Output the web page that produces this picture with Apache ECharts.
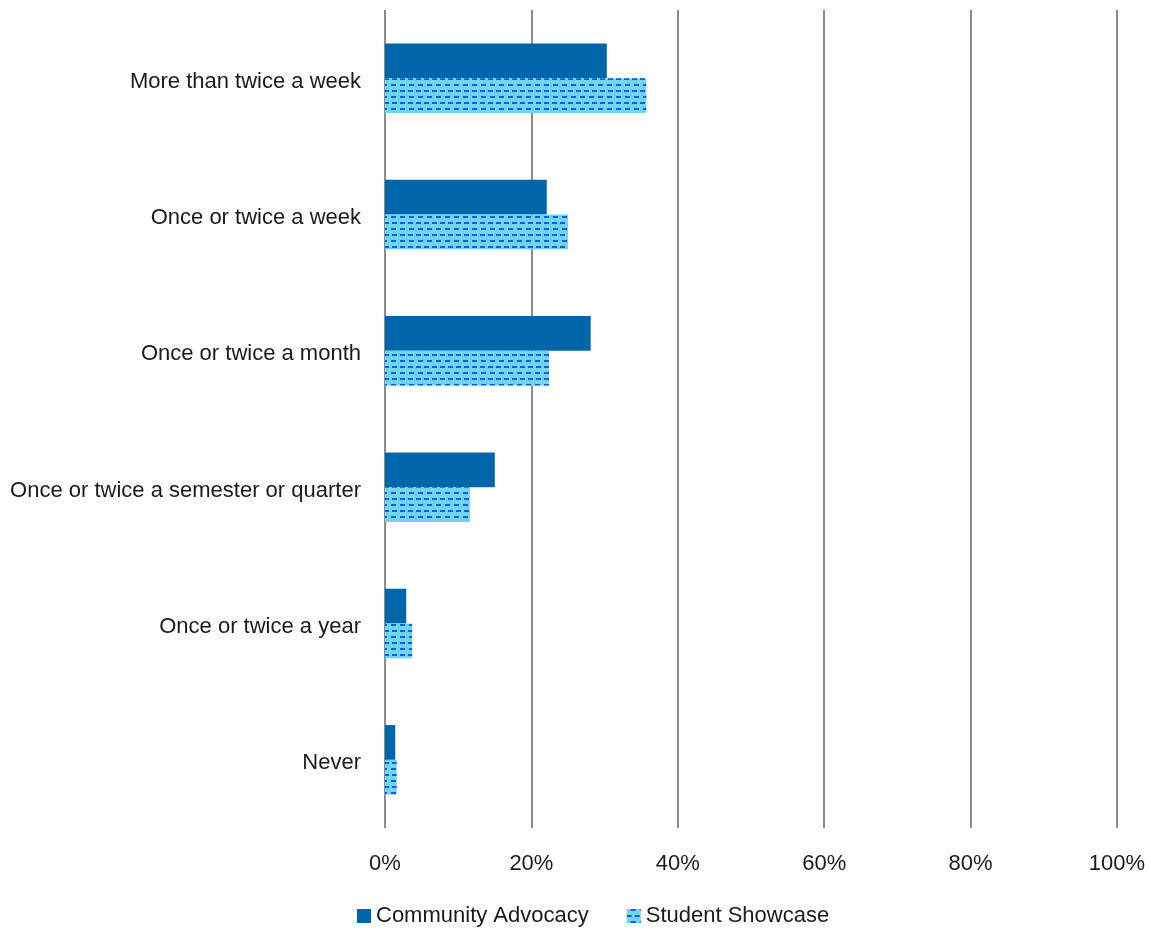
<!DOCTYPE html>
<html><head><meta charset="utf-8">
<script src="https://cdn.jsdelivr.net/npm/echarts@6/dist/echarts.min.js"></script>
<style>html,body{margin:0;padding:0;background:#fff}#c{width:1151px;height:932px}</style>
</head><body><div id="c"></div>
<script>
const categories = ["More than twice a week","Once or twice a week","Once or twice a month","Once or twice a semester or quarter","Once or twice a year","Never"];
const seriesNames = ["Community Advocacy","Student Showcase"];
const communityAdvocacy = [30.3, 22.1, 28.1, 15.0, 2.9, 1.4];
const studentShowcase = [35.7, 25.0, 22.4, 11.6, 3.7, 1.6];
const xTicks = [0, 20, 40, 60, 80, 100];

const FONT = '"Liberation Sans Narrow","Arial Narrow","Liberation Sans",sans-serif';
const chart = echarts.init(document.getElementById('c'), null, {renderer:'canvas'});
const decal = {symbol:'rect', symbolSize:1, color:'#0a62e0', dashArrayX:[[5,3],[0,4,5,0]], dashArrayY:[2,4], rotation:0};
chart.setOption({
  animation:false,
  aria:{enabled:false},
  grid:{left:385, right:34, top:10, bottom:104, containLabel:false},
  legend:{bottom:0, left:352, itemWidth:14, itemHeight:14, itemGap:38, icon:'rect',
    textStyle:{fontFamily:FONT, fontSize:22, color:'#1a1a1a'}, data:seriesNames},
  xAxis:{type:'value', min:0, max:100, interval:20,
    axisLabel:{formatter:v=>v+'%', fontFamily:FONT, fontSize:22, color:'#1a1a1a', margin:25},
    axisLine:{show:false}, axisTick:{show:false},
    splitLine:{lineStyle:{color:'#8c8c8c', width:2}}},
  yAxis:{type:'category', inverse:true, data:categories,
    axisLabel:{fontFamily:FONT, fontSize:22, color:'#1a1a1a', margin:24,
      formatter:v=>'{a|'+v+'}',
      rich:{a:{fontFamily:FONT, fontSize:22, color:'#1a1a1a', padding:[7,0,0,0]}}},
    axisLine:{show:false}, axisTick:{show:false}},
  series:[
    {name:seriesNames[0], type:'bar', data:communityAdvocacy, barGap:'0%', barCategoryGap:'49%',
      itemStyle:{color:'#0066aa'}},
    {name:seriesNames[1], type:'bar', data:studentShowcase, barGap:'0%', barCategoryGap:'49%',
      itemStyle:{color:'#72d3ef', decal:decal}}
  ]
});
</script></body></html>
